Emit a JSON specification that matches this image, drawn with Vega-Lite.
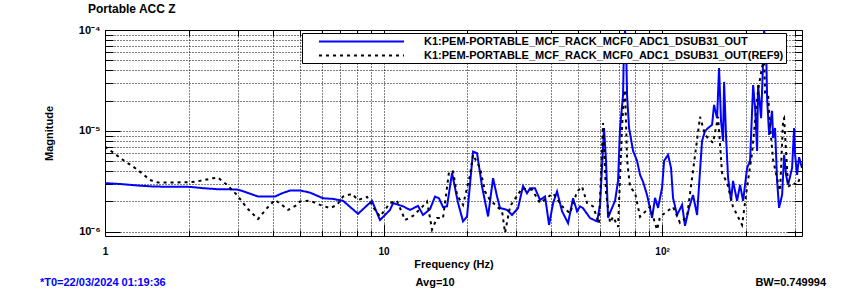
{
  "$schema": "https://vega.github.io/schema/vega-lite/v6.json",
  "width": 697,
  "height": 206,
  "autosize": {"type": "none"},
  "padding": {"left": 105, "top": 30, "right": 44, "bottom": 62},
  "background": "white",
  "config": {
    "view": {"stroke": "black", "strokeWidth": 1},
    "font": "Liberation Sans"
  },
  "title": {"text": "Portable ACC Z", "anchor": "start", "frame": "group", "dx": -17, "offset": 8, "fontSize": 12, "fontWeight": "bold", "font": "Liberation Sans", "color": "black"},
  "resolve": {"axis": {"x": "independent", "y": "independent"}},
  "layer": [
    {
      "data": {"values": [
        {"s":"live","f":1.0,"m":3.04e-6},{"s":"live","f":1.151,"m":2.97e-6},{"s":"live","f":1.336,"m":2.87e-6},{"s":"live","f":1.512,"m":2.81e-6},{"s":"live","f":2.02,"m":2.79e-6},{"s":"live","f":2.248,"m":2.71e-6},{"s":"live","f":2.525,"m":2.65e-6},{"s":"live","f":2.978,"m":2.63e-6},{"s":"live","f":3.13,"m":2.53e-6},{"s":"live","f":3.543,"m":2.24e-6},{"s":"live","f":4.078,"m":2.24e-6},{"s":"live","f":4.32,"m":2.41e-6},{"s":"live","f":4.617,"m":2.57e-6},{"s":"live","f":5.015,"m":2.57e-6},{"s":"live","f":5.446,"m":2.45e-6},{"s":"live","f":6.065,"m":2.15e-6},{"s":"live","f":6.59,"m":2.12e-6},{"s":"live","f":7.155,"m":2.03e-6},{"s":"live","f":8.1,"m":1.51e-6},{"s":"live","f":9.09,"m":2.03e-6},{"s":"live","f":9.71,"m":1.31e-6},{"s":"live","f":10.55,"m":1.65e-6},{"s":"live","f":10.82,"m":1.93e-6},{"s":"live","f":11.75,"m":1.79e-6},{"s":"live","f":12.45,"m":1.65e-6},{"s":"live","f":13.3,"m":1.81e-6},{"s":"live","f":13.86,"m":1.47e-6},{"s":"live","f":14.69,"m":1.68e-6},{"s":"live","f":15.31,"m":2.24e-6},{"s":"live","f":15.82,"m":2.15e-6},{"s":"live","f":16.35,"m":1.76e-6},{"s":"live","f":16.9,"m":1.79e-6},{"s":"live","f":17.62,"m":3.84e-6},{"s":"live","f":18.51,"m":1.94e-6},{"s":"live","f":19.3,"m":1.27e-6},{"s":"live","f":19.94,"m":1.42e-6},{"s":"live","f":20.96,"m":6.24e-6},{"s":"live","f":21.67,"m":6.01e-6},{"s":"live","f":22.58,"m":2.81e-6},{"s":"live","f":23.73,"m":1.42e-6},{"s":"live","f":24.73,"m":3.4e-6},{"s":"live","f":25.56,"m":2.24e-6},{"s":"live","f":26.2,"m":1.72e-6},{"s":"live","f":27.76,"m":1.65e-6},{"s":"live","f":28.93,"m":1.47e-6},{"s":"live","f":30.4,"m":1.72e-6},{"s":"live","f":31.69,"m":2.85e-6},{"s":"live","f":32.75,"m":2.41e-6},{"s":"live","f":33.57,"m":2.7e-6},{"s":"live","f":34.99,"m":2.7e-6},{"s":"live","f":36.47,"m":2.07e-6},{"s":"live","f":38.01,"m":2.24e-6},{"s":"live","f":39.29,"m":1.17e-6},{"s":"live","f":40.62,"m":1.93e-6},{"s":"live","f":41.98,"m":2.51e-6},{"s":"live","f":43.75,"m":1.6e-6},{"s":"live","f":45.97,"m":1.22e-6},{"s":"live","f":47.91,"m":2.15e-6},{"s":"live","f":49.53,"m":1.6e-6},{"s":"live","f":50.76,"m":1.79e-6},{"s":"live","f":52.0,"m":1.72e-6},{"s":"live","f":55.14,"m":1.37e-6},{"s":"live","f":58.43,"m":1.27e-6},{"s":"live","f":59.9,"m":1.85e-6},{"s":"live","f":61.9,"m":1.07e-5},{"s":"live","f":62.93,"m":5.05e-6},{"s":"live","f":63.98,"m":1.38e-6},{"s":"live","f":66.14,"m":1.73e-6},{"s":"live","f":67.8,"m":2.03e-6},{"s":"live","f":69.5,"m":3.2e-6},{"s":"live","f":70.66,"m":1.07e-5},{"s":"live","f":72.44,"m":2.27e-5},{"s":"live","f":73.05,"m":7.96e-5},{"s":"live","f":73.65,"m":9.8e-5},{"s":"live","f":74.26,"m":7.1e-5},{"s":"live","f":74.88,"m":2.27e-5},{"s":"live","f":76.13,"m":1.07e-5},{"s":"live","f":78.69,"m":6.34e-6},{"s":"live","f":81.33,"m":5.05e-6},{"s":"live","f":83.37,"m":3.67e-6},{"s":"live","f":85.47,"m":3.13e-6},{"s":"live","f":88.34,"m":2.32e-6},{"s":"live","f":92.07,"m":1.38e-6},{"s":"live","f":94.38,"m":2.17e-6},{"s":"live","f":96.74,"m":1.73e-6},{"s":"live","f":100.0,"m":2.73e-6},{"s":"live","f":101.7,"m":5.05e-6},{"s":"live","f":105.1,"m":5.79e-6},{"s":"live","f":107.7,"m":4.3e-6},{"s":"live","f":109.5,"m":2.17e-6},{"s":"live","f":113.2,"m":1.47e-6},{"s":"live","f":118.0,"m":1.85e-6},{"s":"live","f":120.9,"m":1.15e-6},{"s":"live","f":125.0,"m":1.73e-6},{"s":"live","f":129.2,"m":2.32e-6},{"s":"live","f":133.6,"m":1.47e-6},{"s":"live","f":135.8,"m":2.92e-6},{"s":"live","f":139.2,"m":7.96e-6},{"s":"live","f":142.7,"m":1.0e-5},{"s":"live","f":146.3,"m":1.07e-5},{"s":"live","f":151.2,"m":1.15e-5},{"s":"live","f":153.7,"m":1.81e-5},{"s":"live","f":157.6,"m":1.34e-5},{"s":"live","f":160.2,"m":4.21e-5},{"s":"live","f":162.8,"m":1.26e-5},{"s":"live","f":165.6,"m":7.96e-6},{"s":"live","f":167.0,"m":3.06e-5},{"s":"live","f":169.8,"m":8.52e-6},{"s":"live","f":172.6,"m":3.42e-6},{"s":"live","f":176.9,"m":2.03e-6},{"s":"live","f":179.8,"m":3.2e-6},{"s":"live","f":185.9,"m":2.03e-6},{"s":"live","f":190.6,"m":2.92e-6},{"s":"live","f":195.4,"m":2.03e-6},{"s":"live","f":202.0,"m":4.3e-6},{"s":"live","f":207.0,"m":5.05e-6},{"s":"live","f":212.3,"m":2.85e-5},{"s":"live","f":215.8,"m":1.69e-5},{"s":"live","f":219.4,"m":6.34e-6},{"s":"live","f":221.2,"m":2.85e-5},{"s":"live","f":226.8,"m":1.34e-5},{"s":"live","f":230.6,"m":4.93e-5},{"s":"live","f":232.5,"m":1.0e-4},{"s":"live","f":236.4,"m":6.63e-5},{"s":"live","f":238.3,"m":2.12e-5},{"s":"live","f":242.3,"m":9.13e-6},{"s":"live","f":248.3,"m":1.58e-5},{"s":"live","f":250.4,"m":8.52e-6},{"s":"live","f":254.5,"m":1.07e-5},{"s":"live","f":258.8,"m":3.2e-6},{"s":"live","f":263.1,"m":1.73e-6},{"s":"live","f":269.8,"m":2.32e-6},{"s":"live","f":274.3,"m":5.79e-6},{"s":"live","f":278.8,"m":3.67e-6},{"s":"live","f":283.5,"m":2.92e-6},{"s":"live","f":293.0,"m":4.3e-6},{"s":"live","f":297.9,"m":1.07e-5},{"s":"live","f":300.4,"m":5.79e-6},{"s":"live","f":305.3,"m":3.67e-6},{"s":"live","f":310.4,"m":5.5e-6},{"s":"live","f":318.0,"m":4.3e-6},
        {"s":"ref","f":1.0,"m":6.99e-6},{"s":"ref","f":1.068,"m":6.13e-6},{"s":"ref","f":1.16,"m":5.16e-6},{"s":"ref","f":1.26,"m":4.44e-6},{"s":"ref","f":1.358,"m":3.81e-6},{"s":"ref","f":1.45,"m":3.27e-6},{"s":"ref","f":1.55,"m":3.08e-6},{"s":"ref","f":2.02,"m":3.1e-6},{"s":"ref","f":2.193,"m":3.2e-6},{"s":"ref","f":2.443,"m":3.4e-6},{"s":"ref","f":2.545,"m":3.45e-6},{"s":"ref","f":2.743,"m":2.92e-6},{"s":"ref","f":2.978,"m":2.32e-6},{"s":"ref","f":3.235,"m":1.72e-6},{"s":"ref","f":3.543,"m":1.34e-6},{"s":"ref","f":3.816,"m":1.72e-6},{"s":"ref","f":4.078,"m":2.07e-6},{"s":"ref","f":4.32,"m":1.85e-6},{"s":"ref","f":4.541,"m":1.65e-6},{"s":"ref","f":4.89,"m":1.85e-6},{"s":"ref","f":5.015,"m":2.0e-6},{"s":"ref","f":5.446,"m":2.04e-6},{"s":"ref","f":5.916,"m":1.85e-6},{"s":"ref","f":6.427,"m":1.72e-6},{"s":"ref","f":6.808,"m":1.85e-6},{"s":"ref","f":7.155,"m":2.24e-6},{"s":"ref","f":7.707,"m":2.38e-6},{"s":"ref","f":8.1,"m":2.07e-6},{"s":"ref","f":8.726,"m":2.22e-6},{"s":"ref","f":9.322,"m":1.65e-6},{"s":"ref","f":9.71,"m":1.42e-6},{"s":"ref","f":10.55,"m":1.93e-6},{"s":"ref","f":11.18,"m":2.03e-6},{"s":"ref","f":11.95,"m":1.31e-6},{"s":"ref","f":12.76,"m":1.44e-6},{"s":"ref","f":13.75,"m":1.76e-6},{"s":"ref","f":14.33,"m":2.0e-6},{"s":"ref","f":14.69,"m":1.37e-6},{"s":"ref","f":14.93,"m":1.05e-6},{"s":"ref","f":15.56,"m":1.37e-6},{"s":"ref","f":16.35,"m":1.37e-6},{"s":"ref","f":17.19,"m":3.96e-6},{"s":"ref","f":17.77,"m":3.96e-6},{"s":"ref","f":18.36,"m":2.32e-6},{"s":"ref","f":19.3,"m":1.85e-6},{"s":"ref","f":20.45,"m":3.67e-6},{"s":"ref","f":20.96,"m":5.79e-6},{"s":"ref","f":22.21,"m":4.27e-6},{"s":"ref","f":23.14,"m":2.51e-6},{"s":"ref","f":24.13,"m":2.07e-6},{"s":"ref","f":26.64,"m":1.6e-6},{"s":"ref","f":27.31,"m":0.98e-6},{"s":"ref","f":28.46,"m":1.79e-6},{"s":"ref","f":31.43,"m":2.7e-6},{"s":"ref","f":34.14,"m":2.61e-6},{"s":"ref","f":36.47,"m":1.93e-6},{"s":"ref","f":40.62,"m":2.41e-6},{"s":"ref","f":43.75,"m":1.79e-6},{"s":"ref","f":46.74,"m":1.53e-6},{"s":"ref","f":49.53,"m":2.51e-6},{"s":"ref","f":51.6,"m":2.81e-6},{"s":"ref","f":53.8,"m":1.93e-6},{"s":"ref","f":56.52,"m":1.79e-6},{"s":"ref","f":59.4,"m":1.21e-6},{"s":"ref","f":61.4,"m":1.2e-5},{"s":"ref","f":62.93,"m":2.43e-6},{"s":"ref","f":65.06,"m":1.23e-6},{"s":"ref","f":66.7,"m":1.41e-6},{"s":"ref","f":69.5,"m":1.12e-6},{"s":"ref","f":71.85,"m":1.1e-5},{"s":"ref","f":73.05,"m":2.43e-5},{"s":"ref","f":73.65,"m":2.55e-5},{"s":"ref","f":74.88,"m":5.16e-6},{"s":"ref","f":76.77,"m":2.79e-6},{"s":"ref","f":80.0,"m":2.43e-6},{"s":"ref","f":83.37,"m":1.41e-6},{"s":"ref","f":90.57,"m":1.77e-6},{"s":"ref","f":95.94,"m":1.05e-6},{"s":"ref","f":98.35,"m":1.41e-6},{"s":"ref","f":109.5,"m":1.77e-6},{"s":"ref","f":116.0,"m":1.23e-6},{"s":"ref","f":122.9,"m":1.41e-6},{"s":"ref","f":136.9,"m":1.38e-5},{"s":"ref","f":142.7,"m":9.13e-6},{"s":"ref","f":152.4,"m":7.61e-6},{"s":"ref","f":158.9,"m":1.38e-5},{"s":"ref","f":164.2,"m":3.84e-6},{"s":"ref","f":171.2,"m":3.06e-6},{"s":"ref","f":179.8,"m":1.77e-6},{"s":"ref","f":193.8,"m":1.17e-6},{"s":"ref","f":202.0,"m":2.79e-6},{"s":"ref","f":210.5,"m":6.06e-6},{"s":"ref","f":221.2,"m":2.55e-5},{"s":"ref","f":228.7,"m":4.3e-5},{"s":"ref","f":232.5,"m":5.28e-5},{"s":"ref","f":234.4,"m":2.38e-5},{"s":"ref","f":240.3,"m":2.27e-5},{"s":"ref","f":244.3,"m":1.1e-5},{"s":"ref","f":250.4,"m":5.16e-6},{"s":"ref","f":260.9,"m":3.06e-6},{"s":"ref","f":265.3,"m":2.55e-6},{"s":"ref","f":272.0,"m":1.29e-5},{"s":"ref","f":274.3,"m":1.34e-5},{"s":"ref","f":283.5,"m":2.79e-6},{"s":"ref","f":295.4,"m":3.06e-6},{"s":"ref","f":305.3,"m":2.92e-6},{"s":"ref","f":313.0,"m":3.42e-6}
      ]},
      "mark": {"type": "line", "strokeWidth": 2, "clip": true, "interpolate": "linear"},
      "encoding": {
        "x": {
          "field": "f", "type": "quantitative",
          "scale": {"type": "log", "domain": [1, 318], "nice": false},
          "axis": {
            "orient": "bottom",
            "title": "Frequency (Hz)",
            "values": [1,2,3,4,5,6,7,8,9,10,20,30,40,50,60,70,80,90,100,200,300],
            "labelExpr": "datum.value == 1 ? '1' : datum.value == 10 ? '10' : datum.value == 100 ? '10²' : ''",
            "labelFont": "Liberation Sans", "labelFontWeight": "bold", "labelFontSize": 10, "labelColor": "black",
            "labelOverlap": false, "labelFlush": false,
            "labelPadding": 22,
            "tickSize": {"condition": {"test": "datum.value == 1 || datum.value == 10 || datum.value == 100", "value": -12}, "value": -6},
            "tickColor": "black", "tickWidth": 1,
            "domain": false,
            "grid": true, "gridColor": "black", "gridDash": [1, 2], "gridWidth": 1, "gridOpacity": 1,
            "titleFont": "Liberation Sans", "titleFontWeight": "bold", "titleFontSize": 11, "titleColor": "black", "titlePadding": -4
          }
        },
        "y": {
          "field": "m", "type": "quantitative",
          "scale": {"type": "log", "domain": [9.1e-7, 1e-4], "nice": false},
          "axis": {
            "orient": "left",
            "title": "Magnitude",
            "values": [1e-6,2e-6,3e-6,4e-6,5e-6,6e-6,7e-6,8e-6,9e-6,1e-5,2e-5,3e-5,4e-5,5e-5,6e-5,7e-5,8e-5,9e-5,1e-4],
            "labelExpr": "abs(datum.value - 1e-6) < 1e-9 ? '10⁻⁶' : abs(datum.value - 1e-5) < 1e-8 ? '10⁻⁵' : abs(datum.value - 1e-4) < 1e-7 ? '10⁻⁴' : ''",
            "labelFont": "Liberation Sans", "labelFontWeight": "bold", "labelFontSize": 11, "labelColor": "black",
            "labelOverlap": false, "labelFlush": false,
            "labelPadding": 20,
            "tickSize": {"condition": {"test": "abs(datum.value - 1e-6) < 1e-9 || abs(datum.value - 1e-5) < 1e-8 || abs(datum.value - 1e-4) < 1e-7", "value": -15}, "value": -8},
            "tickColor": "black", "tickWidth": 1,
            "domain": false,
            "grid": true, "gridColor": "black", "gridDash": [1, 2], "gridWidth": 1, "gridOpacity": 1,
            "titleFont": "Liberation Sans", "titleFontWeight": "bold", "titleFontSize": 11, "titleColor": "black", "titlePadding": 24
          }
        },
        "color": {
          "field": "s", "type": "nominal",
          "scale": {"domain": ["live", "ref"], "range": ["#0000ff", "black"]},
          "legend": {
            "title": null, "orient": "none", "legendX": 197, "legendY": 3,
            "fillColor": "white", "strokeColor": "black", "padding": 2,
            "symbolType": "M-8,0H8", "symbolSize": 113, "symbolStrokeWidth": 2, "symbolOffset": 51,
            "labelExpr": "datum.label == 'live' ? 'K1:PEM-PORTABLE_MCF_RACK_MCF0_ADC1_DSUB31_OUT' : 'K1:PEM-PORTABLE_MCF_RACK_MCF0_ADC1_DSUB31_OUT(REF9)'",
            "labelFont": "Liberation Sans", "labelFontWeight": "bold", "labelFontSize": 11, "labelColor": "black",
            "labelLimit": 600, "labelOffset": 56, "rowPadding": 2
          }
        },
        "strokeDash": {
          "field": "s", "type": "nominal",
          "scale": {"domain": ["live", "ref"], "range": [[1, 0], [3, 4]]},
          "legend": {
            "title": null, "orient": "none", "legendX": 197, "legendY": 3,
            "fillColor": "white", "strokeColor": "black", "padding": 2,
            "symbolType": "M-8,0H8", "symbolSize": 113, "symbolStrokeWidth": 2, "symbolOffset": 51,
            "labelExpr": "datum.label == 'live' ? 'K1:PEM-PORTABLE_MCF_RACK_MCF0_ADC1_DSUB31_OUT' : 'K1:PEM-PORTABLE_MCF_RACK_MCF0_ADC1_DSUB31_OUT(REF9)'",
            "labelFont": "Liberation Sans", "labelFontWeight": "bold", "labelFontSize": 11, "labelColor": "black",
            "labelLimit": 600, "labelOffset": 56, "rowPadding": 2
          }
        }
      }
    },
    {
      "data": {"values": [{"note": "*T0=22/03/2024 01:19:36"}]},
      "mark": {"type": "text", "align": "left", "baseline": "middle", "color": "#0000ff", "font": "Liberation Sans", "fontWeight": "bold", "fontSize": 11},
      "encoding": {
        "x": {"datum": 0.584, "type": "quantitative", "axis": {
          "orient": "top", "title": null, "labels": false, "domain": false, "grid": false,
          "values": [1,2,3,4,5,6,7,8,9,10,20,30,40,50,60,70,80,90,100,200,300],
          "tickSize": {"condition": {"test": "datum.value == 1 || datum.value == 10 || datum.value == 100", "value": -12}, "value": -6},
          "tickColor": "black", "tickWidth": 1}},
        "y": {"datum": 3.13e-7, "type": "quantitative", "axis": {
          "orient": "right", "title": null, "labels": false, "domain": false, "grid": false,
          "values": [1e-6,2e-6,3e-6,4e-6,5e-6,6e-6,7e-6,8e-6,9e-6,1e-5,2e-5,3e-5,4e-5,5e-5,6e-5,7e-5,8e-5,9e-5,1e-4],
          "tickSize": {"condition": {"test": "abs(datum.value - 1e-6) < 1e-9 || abs(datum.value - 1e-5) < 1e-8 || abs(datum.value - 1e-4) < 1e-7", "value": -15}, "value": -8},
          "tickColor": "black", "tickWidth": 1}},
        "text": {"field": "note"}
      }
    },
    {
      "data": {"values": [{"note": "Avg=10"}]},
      "mark": {"type": "text", "align": "center", "baseline": "middle", "color": "black", "font": "Liberation Sans", "fontWeight": "bold", "fontSize": 11},
      "encoding": {
        "x": {"datum": 15.31, "type": "quantitative", "axis": null},
        "y": {"datum": 3.13e-7, "type": "quantitative", "axis": null},
        "text": {"field": "note"}
      }
    },
    {
      "data": {"values": [{"note": "BW=0.749994"}]},
      "mark": {"type": "text", "align": "right", "baseline": "middle", "color": "black", "font": "Liberation Sans", "fontWeight": "bold", "fontSize": 11},
      "encoding": {
        "x": {"datum": 388, "type": "quantitative", "axis": null},
        "y": {"datum": 3.13e-7, "type": "quantitative", "axis": null},
        "text": {"field": "note"}
      }
    }
  ]
}
